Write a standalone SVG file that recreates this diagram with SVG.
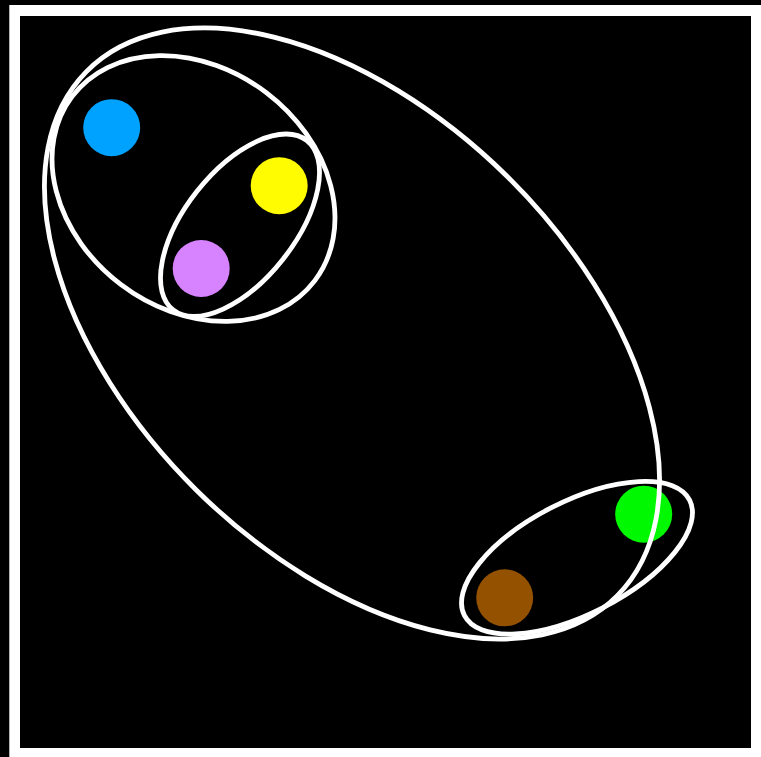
<svg xmlns="http://www.w3.org/2000/svg" width="761" height="757" viewBox="0 0 761 757">
<style>
.set{fill:none;stroke:#ffffff;stroke-width:4.8}
</style>
<rect x="0" y="0" width="761" height="757" fill="#000"/>
<rect x="9.3" y="5" width="760" height="760" fill="#fff"/>
<rect x="20" y="16" width="731" height="732" fill="#000"/>
<g id="blue"><circle cx="111.7" cy="127.7" r="28.5" fill="#00A2FF"/></g>
<g id="yellow"><circle cx="279.2" cy="185.7" r="28.5" fill="#FFFB00"/></g>
<g id="purple"><circle cx="201.2" cy="268.5" r="28.5" fill="#D783FF"/></g>
<g id="green"><circle cx="643.7" cy="514.2" r="28.5" fill="#00F900"/></g>
<g id="brown"><circle cx="504.7" cy="597.8" r="28.5" fill="#945200"/></g>
<g id="sets">
<ellipse id="set-big" class="set" cx="352" cy="333.5" rx="373" ry="220.8" transform="rotate(44.6 352 333.5)"/>
<ellipse id="set-mid" class="set" cx="193.5" cy="188.5" rx="152.3" ry="120.4" transform="rotate(37.2 193.5 188.5)"/>
<ellipse id="set-small" class="set" cx="240" cy="225.25" rx="107.9" ry="54.8" transform="rotate(-51.7 240 225.25)"/>
<ellipse id="set-low" class="set" cx="577" cy="557.75" rx="126.5" ry="56.2" transform="rotate(-27.1 577 557.75)"/>
</g>
</svg>
